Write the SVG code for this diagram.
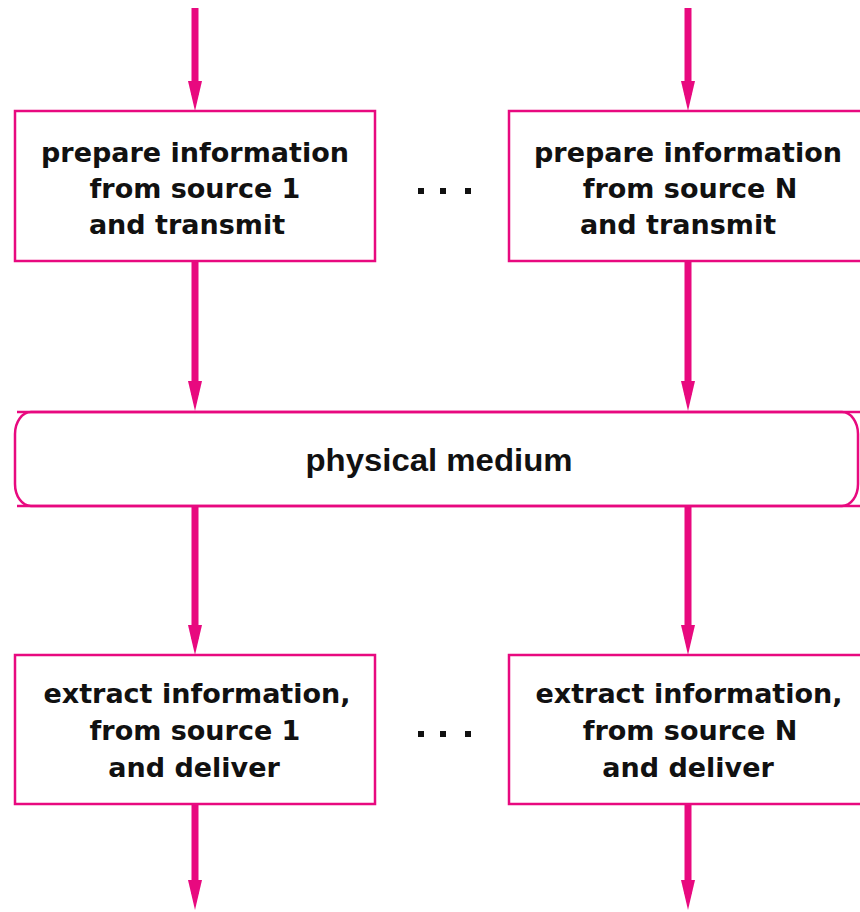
<svg xmlns="http://www.w3.org/2000/svg" width="860" height="912" viewBox="0 0 860 912">
<style>
.box{fill:#fff;stroke:#E8097F;stroke-width:2.5}
.shaft{stroke:#E8097F;stroke-width:7;fill:none}
.head{fill:#E8097F}
.t{font-family:"DejaVu Sans",sans-serif;font-weight:bold;font-size:27px;fill:#111;text-anchor:middle}
.m{font-family:"Liberation Sans",Arial,sans-serif;font-weight:bold;font-size:32px;fill:#111;text-anchor:middle}
.dot{fill:#111}
</style>
<defs>
<path id="ah" d="M-7,-30 L7,-30 L0,0 Z"/>
</defs>
<g id="connectors">
<line class="shaft" x1="195" y1="8" x2="195" y2="95"/>
<use href="#ah" class="head" x="195" y="111"/>
<line class="shaft" x1="688" y1="8" x2="688" y2="95"/>
<use href="#ah" class="head" x="688" y="111"/>
<line class="shaft" x1="195" y1="261" x2="195" y2="395"/>
<use href="#ah" class="head" x="195" y="411"/>
<line class="shaft" x1="688" y1="261" x2="688" y2="395"/>
<use href="#ah" class="head" x="688" y="411"/>
<line class="shaft" x1="195" y1="506" x2="195" y2="639"/>
<use href="#ah" class="head" x="195" y="655"/>
<line class="shaft" x1="688" y1="506" x2="688" y2="639"/>
<use href="#ah" class="head" x="688" y="655"/>
<line class="shaft" x1="195" y1="804" x2="195" y2="894"/>
<use href="#ah" class="head" x="195" y="910"/>
<line class="shaft" x1="688" y1="804" x2="688" y2="894"/>
<use href="#ah" class="head" x="688" y="910"/>
</g>
<g id="prep1">
<rect class="box" x="15" y="111" width="360" height="150"/>
<text class="t" x="195" y="162">prepare information</text>
<text class="t" x="195" y="198">from source 1</text>
<text class="t" x="187" y="234">and transmit</text>
</g>
<g id="dots-top">
<rect class="dot" x="418" y="188" width="6" height="6"/>
<rect class="dot" x="440" y="188" width="6" height="6"/>
<rect class="dot" x="465" y="188" width="6" height="6"/>
</g>
<g id="prepN">
<rect class="box" x="509" y="111" width="360" height="150"/>
<text class="t" x="688" y="162">prepare information</text>
<text class="t" x="690" y="198">from source N</text>
<text class="t" x="678" y="234">and transmit</text>
</g>
<g id="medium">
<rect class="box" x="15" y="412" width="843" height="94" rx="16" ry="22"/>
<line x1="17" y1="412" x2="860" y2="412" stroke="#E8097F" stroke-width="2.5"/>
<line x1="17" y1="506" x2="860" y2="506" stroke="#E8097F" stroke-width="2.5"/>
<text class="m" x="439" y="471" textLength="267" lengthAdjust="spacingAndGlyphs">physical medium</text>
</g>
<g id="extract1">
<rect class="box" x="15" y="655" width="360" height="149"/>
<text class="t" x="197" y="703">extract information,</text>
<text class="t" x="195" y="740">from source 1</text>
<text class="t" x="194" y="777">and deliver</text>
</g>
<g id="dots-bottom">
<rect class="dot" x="418" y="731" width="6" height="6"/>
<rect class="dot" x="440" y="731" width="6" height="6"/>
<rect class="dot" x="465" y="731" width="6" height="6"/>
</g>
<g id="extractN">
<rect class="box" x="509" y="655" width="360" height="149"/>
<text class="t" x="689" y="703">extract information,</text>
<text class="t" x="690" y="740">from source N</text>
<text class="t" x="688" y="777">and deliver</text>
</g>
</svg>
